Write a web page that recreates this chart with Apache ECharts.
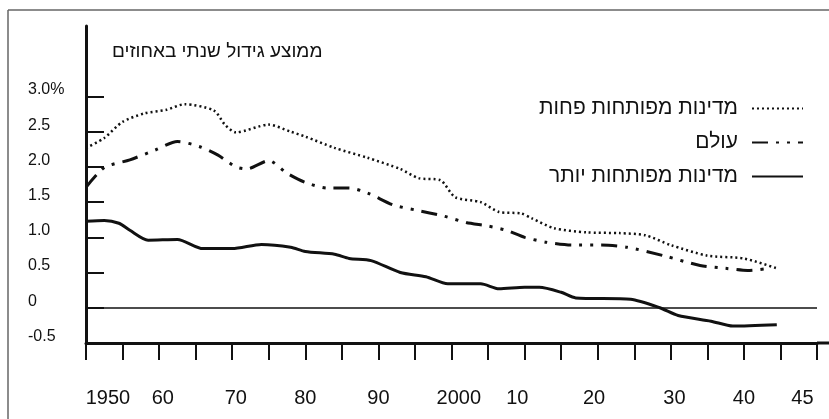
<!DOCTYPE html>
<html>
<head>
<meta charset="utf-8">
<script src="https://cdn.jsdelivr.net/npm/echarts@6/dist/echarts.min.js"></script>
<style>
  html, body { margin: 0; padding: 0; background: #fff; }
  #chart { width: 829px; height: 419px; }
</style>
</head>
<body>
<div id="chart"></div>
<script>
// series names (legend order)
const seriesNames = ["מדינות מפותחות פחות", "עולם", "מדינות מפותחות יותר"];

// less developed countries (dotted)
const lessYears = [1950, 1952.5, 1955, 1958, 1961, 1963.5, 1967.5, 1969, 1970.5, 1975, 1978, 1980, 1984, 1988.5, 1993, 1995.5, 1998.5, 2000.5, 2004, 2006.5, 2009.5, 2011, 2014, 2018.5, 2023, 2026.5, 2030, 2035, 2040, 2044.5];
const lessValues = [2.27, 2.41, 2.64, 2.76, 2.81, 2.89, 2.80, 2.60, 2.49, 2.60, 2.50, 2.43, 2.27, 2.13, 1.97, 1.84, 1.81, 1.57, 1.50, 1.36, 1.34, 1.27, 1.13, 1.07, 1.06, 1.03, 0.89, 0.74, 0.70, 0.56];

// world (dash-dot-dot)
const worldYears = [1950, 1952.5, 1956, 1959.5, 1962.5, 1965.5, 1968, 1970.5, 1972, 1975, 1977.5, 1980, 1983, 1986, 1988.5, 1992, 1995, 1999, 2002, 2005, 2007.5, 2010, 2013, 2016.5, 2020.5, 2024, 2029, 2034, 2037.5, 2040.5, 2043.5];
const worldValues = [1.71, 1.99, 2.10, 2.24, 2.36, 2.29, 2.17, 2.00, 1.97, 2.09, 1.91, 1.78, 1.70, 1.70, 1.63, 1.46, 1.39, 1.30, 1.21, 1.16, 1.10, 1.00, 0.93, 0.89, 0.89, 0.86, 0.74, 0.60, 0.56, 0.53, 0.56];

// more developed countries (solid)
const moreYears = [1950, 1952.5, 1954.5, 1956, 1958.5, 1962.5, 1966, 1970, 1974, 1978, 1980, 1984, 1986, 1989, 1993, 1996.5, 1999.5, 2004, 2006.5, 2010, 2012, 2015, 2017, 2024.5, 2028.5, 2031, 2035.5, 2038.5, 2044.5];
const moreValues = [1.23, 1.24, 1.20, 1.10, 0.96, 0.97, 0.84, 0.84, 0.90, 0.86, 0.80, 0.76, 0.70, 0.67, 0.50, 0.44, 0.34, 0.34, 0.27, 0.29, 0.29, 0.22, 0.14, 0.12, 0.00, -0.11, -0.19, -0.26, -0.24];

// axis ticks and labels
const xTicks = [1950, 1955, 1960, 1965, 1970, 1975, 1980, 1985, 1990, 1995, 2000, 2005, 2010, 2015, 2020, 2025, 2030, 2035, 2040, 2045, 2050];
const xLabelPos = [1953, 1960.5, 1970.5, 1980, 1990, 2001, 2009, 2019.5, 2030.5, 2040, 2048];
const xLabelText = ["1950", "60", "70", "80", "90", "2000", "10", "20", "30", "40", "45"];
const yTicks = [-0.5, 0, 0.5, 1.0, 1.5, 2.0, 2.5, 3.0];
const yLabelText = ["-0.5", "0", "0.5", "1.0", "1.5", "2.0", "2.5", "3.0%"];

const title = "ממוצע גידול שנתי באחוזים";

function zip(xs, ys) {
  return xs.map((x, i) => [x, ys[i]]);
}

const FONT = "'Liberation Sans', Arial, sans-serif";
const INK = "#111";

const chart = echarts.init(document.getElementById("chart"));

chart.setOption({
  backgroundColor: "#fff",
  animation: false,
  title: {
    text: title,
    left: 107,
    top: 37,
    textStyle: { fontFamily: FONT, fontSize: 19, fontWeight: "normal", color: INK }
  },
  graphic: [
    { type: "line", shape: { x1: 8, y1: 10, x2: 8, y2: 419 }, style: { stroke: "#666", lineWidth: 1.5 } },
    { type: "line", shape: { x1: 8, y1: 10, x2: 829, y2: 10 }, style: { stroke: "#666", lineWidth: 1.5 } },
    { type: "line", shape: { x1: 817, y1: 343, x2: 829, y2: 343 }, style: { stroke: INK, lineWidth: 3 } }
  ],
  legend: {
    orient: "vertical",
    right: 20,
    top: 92,
    align: "right",
    itemWidth: 51,
    itemHeight: 14,
    itemGap: 11,
    data: seriesNames,
    itemStyle: { opacity: 0 },
    textStyle: { fontFamily: FONT, fontSize: 21, color: INK, lineHeight: 23, padding: [0, 9, 0, 0] }
  },
  grid: { left: 86, right: 12, top: 26, bottom: 76 },
  xAxis: {
    type: "value",
    min: 1950,
    max: 2050,
    axisLine: { onZero: false, lineStyle: { color: INK, width: 3 } },
    axisTick: { customValues: xTicks, length: 17, lineStyle: { color: INK, width: 2 } },
    axisLabel: {
      customValues: xLabelPos,
      formatter: (v) => xLabelText[xLabelPos.indexOf(v)],
      margin: 45,
      fontFamily: FONT,
      fontSize: 20,
      color: INK
    },
    splitLine: { show: false }
  },
  yAxis: {
    type: "value",
    min: -0.5,
    max: 4.0,
    axisLine: { show: true, lineStyle: { color: INK, width: 3 } },
    axisTick: { show: true, inside: true, customValues: yTicks, length: 18, lineStyle: { color: INK, width: 2 } },
    axisLabel: {
      customValues: yTicks,
      formatter: (v) => yLabelText[yTicks.indexOf(v)],
      align: "left",
      verticalAlign: "bottom",
      lineHeight: 13,
      margin: 58,
      fontFamily: FONT,
      fontSize: 16,
      color: INK
    },
    splitLine: { show: false }
  },
  series: [
    {
      name: seriesNames[0],
      type: "line",
      data: zip(lessYears, lessValues),
      smooth: 0.25,
      symbol: "none",
      lineStyle: { color: INK, width: 2.5, type: [2, 3] },
      itemStyle: { color: INK },
      markLine: {
        silent: true,
        symbol: "none",
        label: { show: false },
        lineStyle: { color: INK, width: 1.5, type: "solid" },
        data: [{ yAxis: 0 }]
      }
    },
    {
      name: seriesNames[1],
      type: "line",
      data: zip(worldYears, worldValues),
      smooth: 0.25,
      symbol: "none",
      lineStyle: { color: INK, width: 3, type: [16, 8, 3, 8, 3, 8] },
      itemStyle: { color: INK }
    },
    {
      name: seriesNames[2],
      type: "line",
      data: zip(moreYears, moreValues),
      smooth: 0.25,
      symbol: "none",
      lineStyle: { color: INK, width: 3 },
      itemStyle: { color: INK }
    }
  ]
});
</script>
</body>
</html>
